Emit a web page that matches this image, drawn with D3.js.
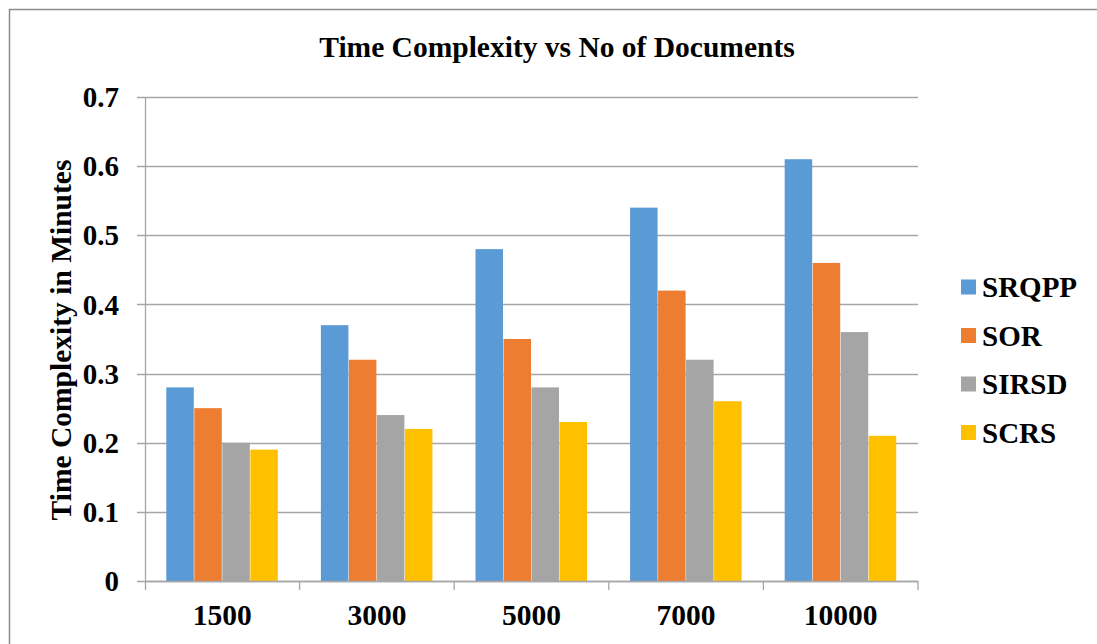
<!DOCTYPE html>
<html>
<head>
<meta charset="utf-8">
<script src="https://cdn.jsdelivr.net/npm/d3@7"></script>
<style>
  body { margin: 0; background: #fff; }
  text { font-family: "Liberation Serif", "Times New Roman", serif; font-weight: bold; fill: #000; }
</style>
</head>
<body>
<div id="chart"></div>
<script>
// Data
const categories = ['1500', '3000', '5000', '7000', '10000']
const seriesNames = ['SRQPP', 'SOR', 'SIRSD', 'SCRS']
const srqpp = [0.28, 0.37, 0.48, 0.54, 0.61]
const sor = [0.25, 0.32, 0.35, 0.42, 0.46]
const sirsd = [0.20, 0.24, 0.28, 0.32, 0.36]
const scrs = [0.19, 0.22, 0.23, 0.26, 0.21]
const yTicks = [0, 0.1, 0.2, 0.3, 0.4, 0.5, 0.6, 0.7]
const colors = ['#5B9BD5', '#ED7D31', '#A5A5A5', '#FFC000']

const seriesValues = [srqpp, sor, sirsd, scrs]

const width = 1097, height = 644
const plot = { left: 145, right: 918, top: 97, bottom: 581 }

const svg = d3.select('#chart').append('svg')
  .attr('width', width)
  .attr('height', height)

// outer frame (runs off the right/bottom edge like the source)
svg.append('rect')
  .attr('x', 9.5).attr('y', 9.5)
  .attr('width', width + 20).attr('height', height + 20)
  .attr('fill', 'none')
  .attr('stroke', '#8c8c8c')
  .attr('stroke-width', 1.5)

// Scales
const x = d3.scaleBand()
  .domain(categories)
  .range([plot.left, plot.right])
  .paddingInner(0)
  .paddingOuter(0)

const xInner = d3.scaleBand()
  .domain(seriesNames)
  .range([0, x.bandwidth()])
  .paddingInner(0)
  .paddingOuter(0.76)

const y = d3.scaleLinear()
  .domain([0, 0.7])
  .range([plot.bottom, plot.top])

// gridlines
svg.append('g')
  .selectAll('line')
  .data(yTicks)
  .join('line')
  .attr('x1', plot.left - 8)
  .attr('x2', plot.right)
  .attr('y1', d => Math.round(y(d)) + 0.5)
  .attr('y2', d => Math.round(y(d)) + 0.5)
  .attr('stroke', '#a6a6a6')
  .attr('stroke-width', 1.3)

// y tick labels
svg.append('g')
  .selectAll('text')
  .data(yTicks)
  .join('text')
  .attr('x', 119)
  .attr('y', d => y(d))
  .attr('dy', '0.35em')
  .attr('text-anchor', 'end')
  .style('font-size', '29px')
  .text(d => d === 0 ? '0' : d3.format('.1f')(d))

// bars
const groups = svg.append('g')
  .selectAll('g')
  .data(categories)
  .join('g')
  .attr('transform', d => `translate(${x(d)},0)`)

groups.selectAll('rect')
  .data((c, i) => seriesNames.map((s, j) => ({ series: s, value: seriesValues[j][i], color: colors[j] })))
  .join('rect')
  .attr('x', d => xInner(d.series))
  .attr('width', xInner.bandwidth() - 0.5)
  .attr('y', d => y(d.value))
  .attr('height', d => y(0) - y(d.value))
  .attr('fill', d => d.color)

// y axis line
svg.append('line')
  .attr('x1', plot.left + 0.5).attr('x2', plot.left + 0.5)
  .attr('y1', plot.top).attr('y2', plot.bottom + 9)
  .attr('stroke', '#a6a6a6').attr('stroke-width', 1.3)

// x axis line + ticks
svg.append('line')
  .attr('x1', plot.left).attr('x2', plot.right)
  .attr('y1', plot.bottom + 0.5).attr('y2', plot.bottom + 0.5)
  .attr('stroke', '#a6a6a6').attr('stroke-width', 1.3)

svg.append('g')
  .selectAll('line')
  .data(categories.slice(1).concat(['end']))
  .join('line')
  .attr('x1', d => d === 'end' ? plot.right : x(d))
  .attr('x2', d => d === 'end' ? plot.right : x(d))
  .attr('y1', plot.bottom)
  .attr('y2', plot.bottom + 9)
  .attr('stroke', '#a6a6a6').attr('stroke-width', 1.3)

// x labels
svg.append('g')
  .selectAll('text')
  .data(categories)
  .join('text')
  .attr('x', d => x(d) + x.bandwidth() / 2)
  .attr('y', 625)
  .attr('text-anchor', 'middle')
  .style('font-size', '29.5px')
  .text(d => d)

// title
svg.append('text')
  .attr('x', 557)
  .attr('y', 57)
  .attr('text-anchor', 'middle')
  .style('font-size', '29.5px')
  .text('Time Complexity vs No of Documents')

// y axis title
svg.append('text')
  .attr('transform', 'translate(71,340) rotate(-90)')
  .attr('text-anchor', 'middle')
  .style('font-size', '29.5px')
  .text('Time Complexity in Minutes')

// legend
const legend = svg.append('g')
  .selectAll('g')
  .data(seriesNames)
  .join('g')
  .attr('transform', (d, i) => `translate(961, ${287 + i * 48.5})`)

legend.append('rect')
  .attr('x', 0).attr('y', -7.5)
  .attr('width', 15).attr('height', 15)
  .attr('fill', (d, i) => colors[i])

legend.append('text')
  .attr('x', 21)
  .attr('y', 0)
  .attr('dy', '0.35em')
  .style('font-size', '29px')
  .text(d => d)
</script>
</body>
</html>
